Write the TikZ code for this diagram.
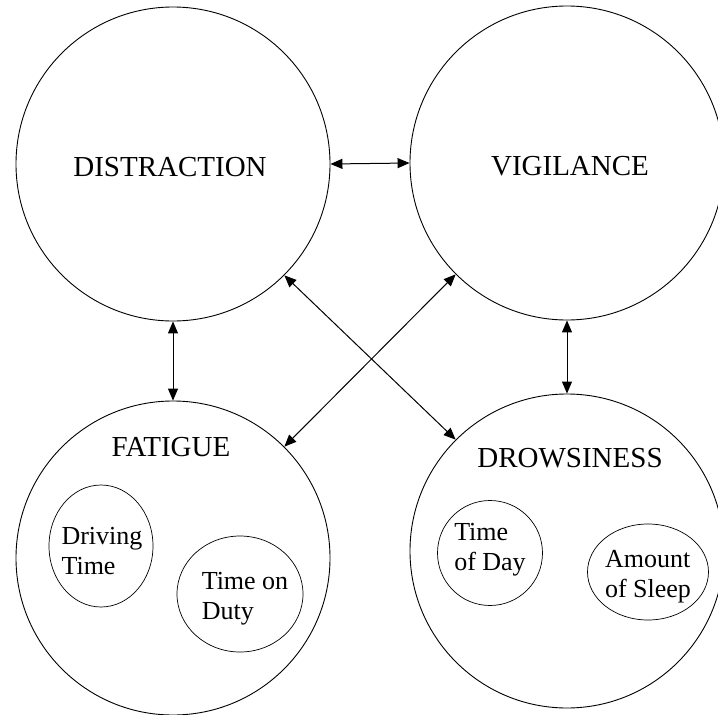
\documentclass[tikz,border=0pt]{standalone}
\usepackage{fontspec}
\setmainfont{Liberation Serif}
\usetikzlibrary{arrows.meta,shapes.geometric}
\begin{document}
\begin{tikzpicture}[x=1pt,y=-1pt,
  bigcircle/.style={draw, circle, line width=0.9pt, minimum size=314pt, inner sep=0pt},
  smallell/.style={draw, ellipse, line width=0.7pt, inner sep=0pt},
  smalltext/.style={align=left, inner sep=0pt, font=\fontsize{26}{30}\selectfont},
  biglabel/.style={font=\fontsize{29}{34}\selectfont, inner sep=0pt},
  link/.style={line width=1pt, {Triangle[length=12pt,width=10pt]}-{Triangle[length=12pt,width=10pt]}}]
\useasboundingbox (0,0) rectangle (718,715);
\node[bigcircle] (D) at (173,164) {};
\node[bigcircle] (V) at (567,163) {};
\node[bigcircle] (F) at (173,558) {};
\node[bigcircle] (R) at (567,551) {};
\node[biglabel] (tD) at (170,167) {DISTRACTION};
\node[biglabel] (tV) at (570,166) {VIGILANCE};
\node[biglabel] (tF) at (171,447) {FATIGUE};
\node[biglabel] (tR) at (570,458) {DROWSINESS};
\node[smallell, minimum width=104pt, minimum height=122pt] (dt) at (101,546) {};
\node[smallell, minimum width=126pt, minimum height=116pt] (td) at (240,594) {};
\node[smallell, minimum width=105pt, minimum height=105pt] (tday) at (490,553) {};
\node[smallell, minimum width=121pt, minimum height=96pt] (as) at (648,572) {};
\node[smalltext] (dtt) at (102,551) {Driving\\Time};
\node[smalltext] (tdt) at (245,599) {Time on\\Duty};
\node[smalltext] (tdayt) at (490,550) {Time\\of Day};
\node[smalltext] (ast) at (648,577) {Amount\\of Sleep};
\draw[link] (D.east) -- (V.west);
\draw[link] (D.south) -- (F.north);
\draw[link] (V.south) -- (R.north);
\draw[link] (D.-45) -- (R.135);
\draw[link] (V.-135) -- (F.45);
\end{tikzpicture}
\end{document}
